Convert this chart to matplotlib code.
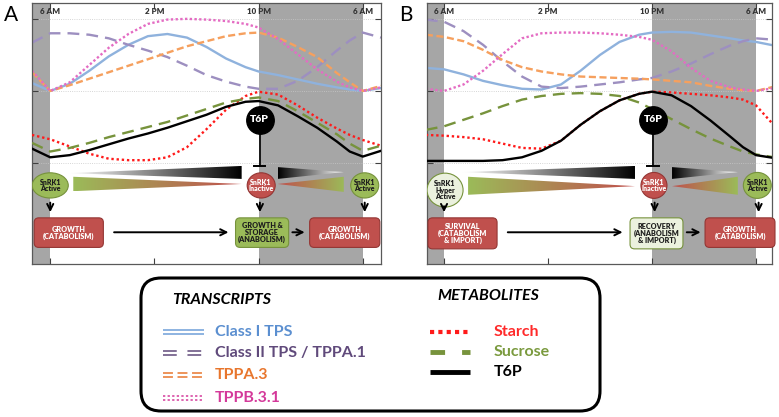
import numpy as np
import matplotlib
matplotlib.use('Agg')
import matplotlib.pyplot as plt
from matplotlib.patches import Polygon, Ellipse, FancyBboxPatch
from matplotlib.colors import LinearSegmentedColormap

plt.rcParams['font.family'] = ['Lato', 'DejaVu Sans']

# sampling times (hours after midnight, 30 = 6 AM next day)
hours = [4.6, 6, 7.5, 9, 10.5, 12, 13.5, 15, 16.5, 18, 19.5, 21, 22, 23.5, 25, 26.5, 28, 29, 30, 31.4]
tick_hours = [6, 14, 22, 30]
tick_labels = ['6 AM', '2 PM', '10 PM', '6 AM']

# panel A, relative levels (0-1)
a_class1 = [0.11, 0.00, 0.10, 0.28, 0.48, 0.64, 0.76, 0.79, 0.74, 0.61, 0.45, 0.33, 0.27, 0.22, 0.16, 0.10, 0.05, 0.02, 0.00, 0.04]
a_class2 = [0.67, 0.80, 0.80, 0.78, 0.73, 0.64, 0.56, 0.47, 0.35, 0.22, 0.13, 0.06, 0.03, 0.03, 0.14, 0.33, 0.56, 0.70, 0.81, 0.74]
a_tppa3 = [0.26, 0.00, 0.08, 0.17, 0.26, 0.35, 0.44, 0.53, 0.62, 0.69, 0.76, 0.80, 0.81, 0.74, 0.61, 0.47, 0.25, 0.12, 0.00, 0.07]
a_tppb31 = [0.28, 0.00, 0.12, 0.36, 0.60, 0.79, 0.93, 0.99, 1.00, 0.99, 0.97, 0.93, 0.88, 0.72, 0.51, 0.30, 0.13, 0.05, 0.00, 0.05]
a_starch = [0.39, 0.33, 0.23, 0.13, 0.06, 0.04, 0.04, 0.08, 0.22, 0.47, 0.74, 0.93, 0.99, 0.95, 0.80, 0.63, 0.48, 0.39, 0.32, 0.24]
a_sucrose = [0.28, 0.16, 0.21, 0.28, 0.36, 0.43, 0.50, 0.57, 0.66, 0.75, 0.84, 0.89, 0.91, 0.86, 0.72, 0.56, 0.40, 0.27, 0.17, 0.24]
a_t6p = [0.20, 0.08, 0.11, 0.18, 0.26, 0.34, 0.41, 0.49, 0.58, 0.67, 0.78, 0.85, 0.86, 0.80, 0.65, 0.49, 0.30, 0.16, 0.09, 0.17]

# panel B
b_class1 = [0.32, 0.30, 0.23, 0.14, 0.08, 0.03, 0.02, 0.09, 0.28, 0.50, 0.68, 0.78, 0.81, 0.82, 0.81, 0.77, 0.73, 0.70, 0.68, 0.63]
b_class2 = [0.99, 0.96, 0.83, 0.64, 0.41, 0.20, 0.06, 0.04, 0.06, 0.09, 0.12, 0.16, 0.18, 0.27, 0.38, 0.51, 0.63, 0.69, 0.73, 0.71]
b_tppa3 = [0.78, 0.75, 0.69, 0.57, 0.43, 0.33, 0.27, 0.23, 0.20, 0.19, 0.18, 0.17, 0.16, 0.14, 0.12, 0.07, 0.03, 0.01, 0.00, 0.06]
b_tppb31 = [0.03, 0.00, 0.09, 0.28, 0.51, 0.73, 0.80, 0.81, 0.81, 0.80, 0.78, 0.75, 0.71, 0.55, 0.32, 0.14, 0.05, 0.02, 0.00, 0.04]
b_starch = [0.39, 0.38, 0.36, 0.33, 0.27, 0.21, 0.20, 0.31, 0.53, 0.72, 0.87, 0.96, 0.99, 0.98, 0.96, 0.94, 0.91, 0.88, 0.80, 0.52]
b_sucrose = [0.46, 0.51, 0.60, 0.69, 0.79, 0.88, 0.93, 0.96, 0.97, 0.96, 0.93, 0.84, 0.75, 0.61, 0.47, 0.34, 0.23, 0.16, 0.12, 0.08]
b_t6p = [0.03, 0.03, 0.03, 0.03, 0.04, 0.08, 0.17, 0.31, 0.53, 0.72, 0.87, 0.96, 0.99, 0.94, 0.79, 0.59, 0.37, 0.22, 0.11, 0.07]

trans_names = ['Class I TPS', 'Class II TPS / TPPA.1', 'TPPA.3', 'TPPB.3.1']
trans_colors = ['#8fb2dd', '#9d8fc0', '#f6a05e', '#e46cc3']
trans_text = ['#5b8fd0', '#604a7b', '#e8762d', '#d4399a']
trans_ls = ['-', (0, (5, 3)), (0, (3, 1.5)), (0, (1, 1))]
metab_names = ['Starch', 'Sucrose', 'T6P']
metab_colors = ['#ff1a1a', '#77933c', '#000000']
metab_text = ['#ff2a2a', '#7a9a3e', '#000000']
metab_ls = [(0, (1, 1.2)), (0, (5, 3)), '-']

GRAY = '#a6a6a6'
GREEN = '#9bbb59'
RED = '#c0504d'
PALE = '#ebf1de'


def grad_wedge(ax, pts, c1, c2):
    poly = Polygon(pts, closed=True, fc='none', ec='none')
    ax.add_patch(poly)
    xs = [p[0] for p in pts]
    ys = [p[1] for p in pts]
    cmap = LinearSegmentedColormap.from_list('w', [c1, c2])
    im = ax.imshow(np.linspace(0, 1, 256).reshape(1, -1), cmap=cmap, aspect='auto',
                   extent=(min(xs), max(xs), min(ys), max(ys)), origin='lower', zorder=4)
    im.set_clip_path(poly)


def box(ax, x0, x1, y0, y1, text, fc, ec, tc):
    p = FancyBboxPatch((x0, y0), x1 - x0, y1 - y0, boxstyle='round,pad=0,rounding_size=0.35',
                       mutation_aspect=13 / 72, fc=fc, ec=ec, lw=0.8, zorder=5, clip_on=False)
    ax.add_patch(p)
    ax.text((x0 + x1) / 2, (y0 + y1) / 2, text, ha='center', va='center', fontsize=5.2,
            fontweight='heavy', color=tc, zorder=6, linespacing=0.95)


def arrow(ax, x0, y0, x1, y1):
    ax.annotate('', xy=(x1, y1), xytext=(x0, y0),
                arrowprops=dict(arrowstyle='->', lw=1.4, color='black', mutation_scale=11), zorder=6)


def snrk(ax, x, y, w, h, text, fc, tc, ec):
    ax.add_patch(Ellipse((x, y), w, h, fc=fc, ec=ec, lw=0.8, zorder=5))
    ax.text(x, y, text, ha='center', va='center', fontsize=5.0, fontweight='heavy', color=tc,
            zorder=6, linespacing=0.9)


def panel(ax, xlim, trans, metab):
    ax.axvspan(xlim[0] - 1, 6, color=GRAY, lw=0, zorder=0)
    ax.axvspan(22, 30, color=GRAY, lw=0, zorder=0)
    for yy in (0, 1, 2):
        ax.axhline(yy, color='#c8c8c8', lw=0.6, ls=':', zorder=1)
    for vals, col, ls in zip(trans, trans_colors, trans_ls):
        ax.plot(hours, np.array(vals) + 1, color=col, ls=ls, lw=1.7, zorder=2)
    for vals, col, ls in zip(metab, metab_colors, metab_ls):
        ax.plot(hours, vals, color=col, ls=ls, lw=1.7, zorder=3)
    for h, lab in zip(tick_hours, tick_labels):
        ax.text(h, 2.1, lab, ha='center', va='center', fontsize=5.8, fontweight='heavy',
                color='#333333')
    ax.set_xticks(tick_hours)
    ax.set_yticks([0, 1, 2])
    ax.tick_params(direction='in', length=4, width=0.8, top=True, right=True,
                   labelbottom=False, labelleft=False, color='#404040')
    for s in ax.spines.values():
        s.set_color('#595959')
        s.set_linewidth(0.9)
    # T6P inhibition
    ax.plot([22.08, 22.08], [0.6, -0.04], color='black', lw=1.2, zorder=5)
    ax.plot([21.65, 22.5], [-0.04, -0.04], color='black', lw=1.4, zorder=5)
    ax.scatter([22.08], [0.6], s=390, color='black', zorder=7)
    ax.text(22.08, 0.6, 'T6P', color='white', fontsize=7.5, fontweight='heavy', ha='center',
            va='center', zorder=8)


fig = plt.figure(figsize=(7.79, 4.17), dpi=100)
W, H = 779, 417


def add_ax(l, t, r, b):
    return fig.add_axes([l / W, 1 - b / H, (r - l) / W, (b - t) / H])


axA = add_ax(32, 3, 381, 264)
axB = add_ax(427, 3, 772, 264)
xlimA = (4.6, 31.4)
xlimB = (4.69, 31.23)

panel(axA, xlimA, [a_class1, a_class2, a_tppa3, a_tppb31], [a_starch, a_sucrose, a_t6p])
panel(axB, xlimB, [b_class1, b_class2, b_tppa3, b_tppb31], [b_starch, b_sucrose, b_t6p])

# panel A diagram
grad_wedge(axA, [(7.38, -0.14), (20.7, -0.04), (20.7, -0.22)], 'white', 'black')
grad_wedge(axA, [(7.77, -0.19), (7.77, -0.39), (20.7, -0.29)], GREEN, RED)
grad_wedge(axA, [(23.46, -0.056), (23.46, -0.22), (28.54, -0.125)], 'black', 'white')
grad_wedge(axA, [(23.46, -0.29), (28.54, -0.19), (28.54, -0.40)], RED, GREEN)
snrk(axA, 6.0, -0.31, 2.77, 0.35, 'SnRK1\nActive', GREEN, '#1e1e1e', '#76923c')
snrk(axA, 22.2, -0.31, 2.15, 0.35, 'SnRK1\nInactive', RED, 'white', '#943634')
snrk(axA, 30.15, -0.31, 2.15, 0.35, 'SnRK1\nActive', GREEN, '#1e1e1e', '#76923c')
for x in (6.0, 22.1, 30.15):
    arrow(axA, x, -0.51, x, -0.72)
box(axA, 4.77, 10.08, -1.17, -0.76, 'GROWTH\n(CATABOLISM)', RED, '#943634', 'white')
box(axA, 20.23, 24.31, -1.17, -0.76, 'GROWTH &\nSTORAGE\n(ANABOLISM)', GREEN, '#76923c', '#1e1e1e')
box(axA, 25.92, 31.31, -1.17, -0.76, 'GROWTH\n(CATABOLISM)', RED, '#943634', 'white')
arrow(axA, 10.69, -0.96, 19.9, -0.96)
arrow(axA, 24.38, -0.96, 25.75, -0.96)

# panel B diagram
grad_wedge(axB, [(7.38, -0.125), (20.69, -0.04), (20.69, -0.22)], 'white', 'black')
grad_wedge(axB, [(7.85, -0.19), (7.85, -0.44), (20.69, -0.32)], GREEN, RED)
grad_wedge(axB, [(23.54, -0.056), (23.54, -0.22), (28.6, -0.125)], 'black', 'white')
grad_wedge(axB, [(23.54, -0.32), (28.6, -0.19), (28.6, -0.44)], RED, GREEN)
snrk(axB, 6.08, -0.375, 2.77, 0.47, 'SnRK1\nHyper\nActive', PALE, '#1e1e1e', '#76923c')
snrk(axB, 22.15, -0.31, 2.0, 0.36, 'SnRK1\nInactive', RED, 'white', '#943634')
snrk(axB, 30.1, -0.31, 2.15, 0.36, 'SnRK1\nActive', GREEN, '#1e1e1e', '#76923c')
arrow(axB, 6.0, -0.56, 6.0, -0.72)
for x in (22.2, 30.2):
    arrow(axB, x, -0.51, x, -0.72)
box(axB, 4.77, 10.08, -1.19, -0.76, 'SURVIVAL\n(CATABOLISM\n& IMPORT)', RED, '#943634', 'white')
box(axB, 20.31, 24.38, -1.19, -0.76, 'RECOVERY\n(ANABOLISM\n& IMPORT)', PALE, '#76923c', '#1e1e1e')
box(axB, 26.08, 31.46, -1.17, -0.76, 'GROWTH\n(CATABOLISM)', RED, '#943634', 'white')
arrow(axB, 10.69, -0.96, 19.95, -0.96)
arrow(axB, 24.46, -0.96, 25.95, -0.96)

for ax, xl in ((axA, xlimA), (axB, xlimB)):
    ax.set_xlim(xl)
    ax.set_ylim(-1.40, 2.22)

# legend + panel letters on an overlay in pixel units
lg = fig.add_axes([0, 0, 1, 1])
lg.set_xlim(0, W)
lg.set_ylim(H, 0)
lg.axis('off')
lg.text(11, 15, 'A', fontsize=15, ha='center', va='center')
lg.text(406, 15, 'B', fontsize=15, ha='center', va='center')
lg.add_patch(FancyBboxPatch((141, 278), 459, 133, boxstyle='round,pad=0,rounding_size=20',
                            fc='white', ec='black', lw=2.2))
lg.text(172, 300, 'TRANSCRIPTS', fontsize=11.5, fontweight='bold', style='italic', va='center')
lg.text(437, 296, 'METABOLITES', fontsize=11.5, fontweight='bold', style='italic', va='center')

trans_rows = [332, 353, 375, 398]
legend_trans_ls = ['-', (0, (9, 7)), (0, (6.5, 3)), (0, (1.5, 1.5))]
for name, col, tcol, ls, y in zip(trans_names, trans_colors, trans_text, legend_trans_ls, trans_rows):
    for dy in (-1.6, 1.6):
        lg.plot([163, 204], [y + dy, y + dy], color=tcol if col != trans_colors[0] else '#6f9fd8',
                ls=ls, lw=1.1, solid_capstyle='butt', dash_capstyle='butt')
    lg.text(215, y, name, color=tcol, fontsize=11.5, fontweight='bold', va='center')

metab_rows = [332, 352, 372]
legend_metab_ls = [(0, (1, 1)), (0, (3, 3.5)), '-']
legend_metab_lw = [3.0, 3.5, 3.5]
for name, col, tcol, ls, lw, y in zip(metab_names, metab_colors, metab_text, legend_metab_ls,
                                      legend_metab_lw, metab_rows):
    lg.plot([430, 470], [y, y], color=col, ls=ls, lw=lw, solid_capstyle='butt', dash_capstyle='butt')
    lg.text(494, y, name, color=tcol, fontsize=11.5, fontweight='bold', va='center')

fig.savefig('out.png', dpi=100)
